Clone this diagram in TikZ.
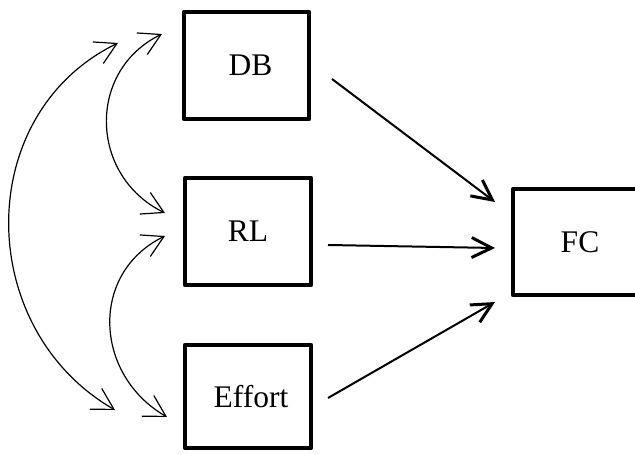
\documentclass[tikz,border=0pt]{standalone}
\usepackage{fontspec}
\setmainfont{Liberation Serif}
\usetikzlibrary{arrows.meta}
\begin{document}
\begin{tikzpicture}[x=1pt,y=1pt,
  varbox/.style={draw, line width=4.3pt, line join=round, outer sep=0pt, inner sep=0pt,
    font=\fontsize{31.5}{36}\selectfont},
  patharrow/.style={line width=2pt, -{Straight Barb[length=20pt,width=20pt,line width=3pt]}},
  covarrow/.style={line width=1.2pt, {Straight Barb[length=21pt,width=24pt,line width=1.2pt]}-{Straight Barb[length=21pt,width=24pt,line width=1.2pt]}}
]
\useasboundingbox (0,0) rectangle (635,454);
\node[varbox, minimum width=125pt, minimum height=107pt] (DB) at (246.5,388.5) {\hspace*{8pt}DB};
\node[varbox, minimum width=126pt, minimum height=107pt] (RL) at (248,222.5) {RL};
\node[varbox, minimum width=126pt, minimum height=103pt] (EF) at (248,57.5) {\hspace*{6pt}Effort};
\node[varbox, minimum width=134pt, minimum height=106pt] (FC) at (580,212) {FC};

\draw[patharrow] ([shift={(23pt,-13.5pt)}]DB.east) -- ([shift={(-18pt,40pt)}]FC.west);
\draw[patharrow] ([shift={(17pt,-13.5pt)}]RL.east) -- ([shift={(-18pt,-6pt)}]FC.west);
\draw[patharrow] ([shift={(17pt,-1.5pt)}]EF.east) -- ([shift={(-18pt,-60pt)}]FC.west);

\draw[covarrow] ([shift={(-22pt,31.5pt)}]DB.west) to[out=206,in=154,looseness=1.2] ([shift={(-20pt,18.5pt)}]RL.west);
\draw[covarrow] ([shift={(-66pt,22.5pt)}]DB.west) to[out=206,in=150,looseness=1.13] ([shift={(-70pt,-13.5pt)}]EF.west);
\draw[covarrow] ([shift={(-20pt,-4.5pt)}]RL.west) to[out=206,in=150,looseness=1.19] ([shift={(-18pt,-20.5pt)}]EF.west);
\end{tikzpicture}
\end{document}
